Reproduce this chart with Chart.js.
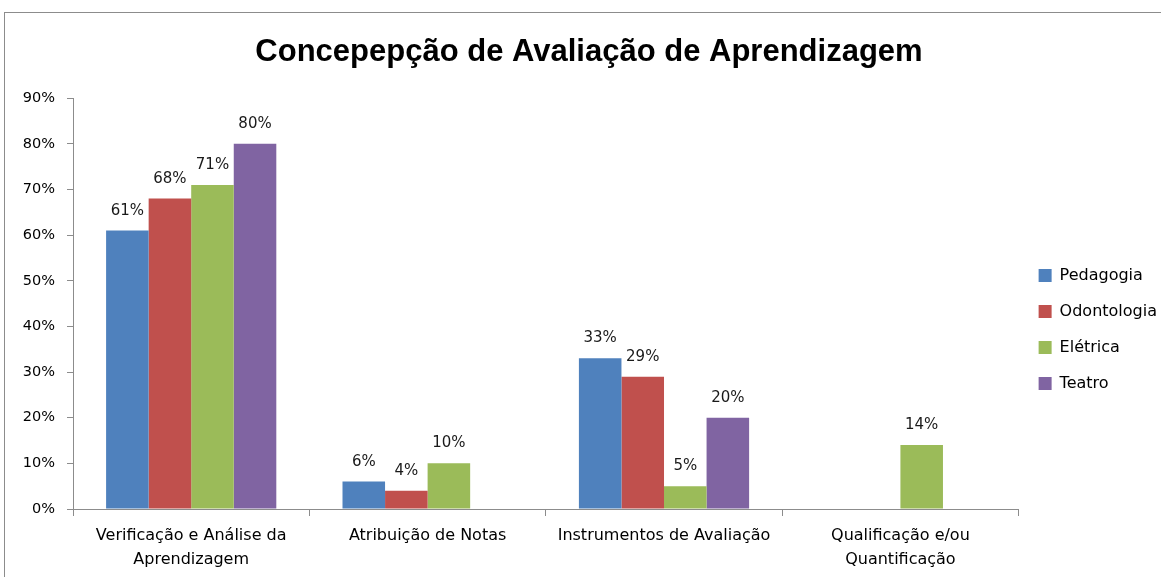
<!DOCTYPE html>
<html>
<head>
<meta charset="utf-8">
<script src="https://cdn.jsdelivr.net/npm/chart.js@4.4.1/dist/chart.umd.min.js"></script>
<style>
  html, body { margin: 0; padding: 0; background: #fff; overflow: hidden; }
  #frame {
    position: absolute; left: 4px; top: 12px;
    width: 1170px; height: 580px;
    border: 1px solid #8c8c8c;
  }
  #wrap { position: absolute; left: 0px; top: 0px; width: 1162px; height: 564px; }
</style>
</head>
<body>
<div id="frame">
  <div id="wrap"><canvas id="chart1"></canvas></div>
</div>
<script>
const categories = [
  ['Verificação e Análise da', 'Aprendizagem'],
  'Atribuição de Notas',
  'Instrumentos de Avaliação',
  ['Qualificação e/ou', 'Quantificação']
];
const pedagogia  = [61, 6, 33, null];
const odontologia = [68, 4, 29, null];
const eletrica   = [71, 10, 5, 14];
const teatro     = [80, null, 20, null];
const yTicks = [0, 10, 20, 30, 40, 50, 60, 70, 80, 90];

const baseFont = "'DejaVu Sans', sans-serif";

// labels on top of the bars, like excel does
const barLabels = {
  id: 'barLabels',
  afterDatasetsDraw(chart) {
    const c = chart.ctx;
    c.save();
    c.font = "15px " + baseFont;
    c.fillStyle = '#1a1a1a';
    c.textAlign = 'center';
    c.textBaseline = 'alphabetic';
    chart.data.datasets.forEach((ds, i) => {
      chart.getDatasetMeta(i).data.forEach((bar, j) => {
        const v = ds.data[j];
        if (v === null) return;
        c.fillText(v + '%', bar.x, bar.y - 16);
      });
    });
    c.restore();
  }
};

const ctx = document.getElementById('chart1').getContext('2d');
const chart1 = new Chart(ctx, {
  type: 'bar',
  data: {
    labels: categories,
    datasets: [
      { label: 'Pedagogia', data: pedagogia, backgroundColor: '#4F81BD' },
      { label: 'Odontologia', data: odontologia, backgroundColor: '#C0504D' },
      { label: 'Elétrica', data: eletrica, backgroundColor: '#9BBB59' },
      { label: 'Teatro', data: teatro, backgroundColor: '#8064A2' }
    ]
  },
  options: {
    responsive: true,
    maintainAspectRatio: false,
    animation: false,
    datasets: {
      bar: { categoryPercentage: 0.72, barPercentage: 1.0 }
    },
    layout: { padding: { left: 6, right: 0, top: 0, bottom: 0 } },
    plugins: {
      title: {
        display: true,
        text: 'Concepepção de Avaliação de Aprendizagem',
        color: '#000',
        font: { family: "'Liberation Sans Narrow', 'Liberation Sans', sans-serif", size: 31, weight: 'bold' },
        padding: { top: 21, bottom: 27 }
      },
      legend: {
        position: 'right',
        fullSize: false,
        title: {
          display: true,
          text: ' ',
          font: { size: 10, lineHeight: 1.2 },
          padding: { top: 0, bottom: 40 }
        },
        labels: {
          boxWidth: 13,
          boxHeight: 13,
          padding: 20,
          color: '#000',
          font: { family: baseFont, size: 16 }
        }
      },
      tooltip: { enabled: false }
    },
    scales: {
      x: {
        offset: true,
        grid: { offset: true, drawOnChartArea: false, tickLength: 7, color: '#8c8c8c' },
        border: { color: '#8c8c8c' },
        ticks: {
          color: '#000',
          padding: 8,
          font: { family: baseFont, size: 16, lineHeight: 1.5 },
          maxRotation: 0
        },
        afterFit(scale) { scale.height = 68; }
      },
      y: {
        min: 0,
        max: 90,
        afterBuildTicks(scale) { scale.ticks = yTicks.map(v => ({ value: v })); },
        grid: { drawOnChartArea: false, tickLength: 6, color: '#8c8c8c' },
        border: { color: '#8c8c8c' },
        ticks: {
          color: '#000',
          padding: 12,
          font: { family: baseFont, size: 14.5 },
          callback: v => v + '%'
        },
        afterFit(scale) { scale.width = 62; }
      }
    }
  },
  plugins: [barLabels]
});
</script>
</body>
</html>
